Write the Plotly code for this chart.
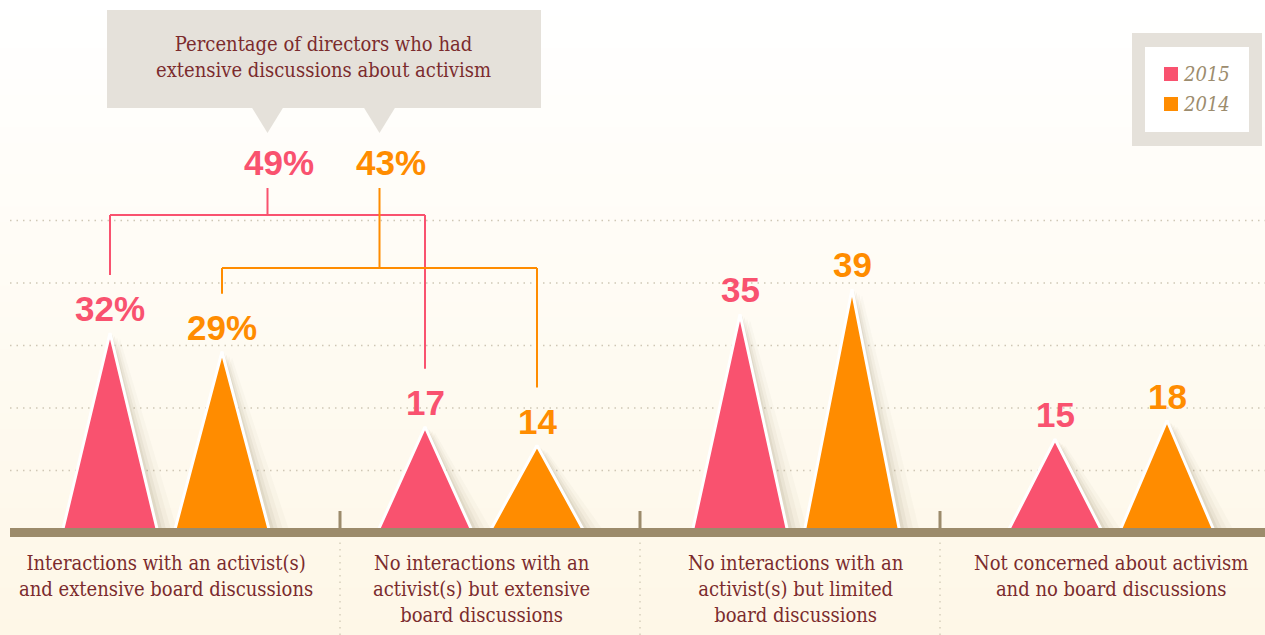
import plotly.graph_objects as go

# ---------------- data ----------------
categories = [
    "Interactions with an activist(s)<br>and extensive board discussions",
    "No interactions with an<br>activist(s) but extensive<br>board discussions",
    "No interactions with an<br>activist(s) but limited<br>board discussions",
    "Not concerned about activism<br>and no board discussions",
]
series_names = ["2015", "2014"]
values_2015 = [32, 17, 35, 15]
values_2014 = [29, 14, 39, 18]
labels_2015 = ["32%", "17", "35", "15"]
labels_2014 = ["29%", "14", "39", "18"]
extensive_totals = [49, 43]          # 2015, 2014
extensive_labels = ["49%", "43%"]
grid_values = [10, 20, 30, 40, 50]
callout_text = "Percentage of directors who had<br>extensive discussions about activism"

# ---------------- style ----------------
W, H = 1265, 635
PINK = "#F9526F"
ORANGE = "#FF8C00"
BROWN = "#9C8B6B"
MAROON = "#7B2B2D"
BOXGRAY = "#E5E1DA"
SERIF = "DejaVu Serif Condensed, Liberation Serif, serif"
SANS = "Liberation Sans, Arial, sans-serif"
colors = [PINK, ORANGE]

# axis geometry (pixel <-> data)
X0_PX, X_STEP = 166.0, 315.0      # pixel of category 0, pixels per category
Y0_PX, Y_STEP = 533.0, 6.25       # pixel of value 0, pixels per unit
OFFSET = 56 / X_STEP              # series offset from category centre
HALF = 48 / X_STEP                # triangle half width

def xd(p):  # pixel -> x data
    return (p - X0_PX) / X_STEP

def yd(p):  # pixel -> y data
    return (Y0_PX - p) / Y_STEP

def xp(p):  # pixel -> paper x
    return p / W

def yp(p):  # pixel -> paper y
    return 1 - p / H

fig = go.Figure()
shapes = []
annotations = []

# background gradient (white top -> cream bottom)
n_bands = 40
top = (255, 255, 255)
bot = (254, 247, 231)
for k in range(n_bands):
    t = k / (n_bands - 1)
    c = tuple(int(round(top[j] + (bot[j] - top[j]) * t)) for j in range(3))
    shapes.append(dict(type="rect", xref="paper", yref="paper",
                       x0=0, x1=1, y0=1 - (k + 1) / n_bands - 0.002, y1=1 - k / n_bands,
                       fillcolor="rgb(%d,%d,%d)" % c, line_width=0, layer="below"))

# gridlines
for g in grid_values:
    shapes.append(dict(type="line", xref="paper", yref="y", x0=xp(10), x1=1, y0=g, y1=g,
                       line=dict(color="#CFC7B5", width=1.5, dash="1.5px,5px"), layer="below"))

# triangles with shadows
series_vals = [values_2015, values_2014]
series_labels = [labels_2015, labels_2014]
for s, (vals, labs) in enumerate(zip(series_vals, series_labels)):
    off = -OFFSET if s == 0 else OFFSET
    for i, v in enumerate(vals):
        cx = i + off
        # soft shadow layers (offset to the right)
        for sh, alpha in [(20, 0.03), (14, 0.045), (9, 0.06), (5, 0.08)]:
            dx = sh / X_STEP
            fig.add_trace(go.Scatter(
                x=[cx - HALF + dx * 0.3, cx + dx * 0.5, cx + HALF + dx, cx - HALF + dx * 0.3],
                y=[0, v - sh * 0.3 / Y_STEP, 0, 0],
                mode="lines", fill="toself", fillcolor="rgba(110,90,50,%.3f)" % alpha,
                line=dict(width=0), hoverinfo="skip", showlegend=False))
        fig.add_trace(go.Scatter(
            x=[cx - HALF, cx, cx + HALF, cx - HALF], y=[0, v, 0, 0],
            mode="lines", fill="toself", fillcolor=colors[s],
            line=dict(color="white", width=3), name=series_names[s],
            hoverinfo="skip", showlegend=False))
        annotations.append(dict(x=cx, y=v, xref="x", yref="y", text=labs[i],
                                showarrow=False, yanchor="bottom", yshift=3,
                                font=dict(family=SANS, size=35, color=colors[s], weight="bold")))

# baseline bar
shapes.append(dict(type="rect", xref="paper", yref="y", x0=xp(10), x1=1,
                   y0=yd(537), y1=yd(528), fillcolor=BROWN, line_width=0, layer="above"))
# section dividers
for dpx in [340, 640, 940]:
    shapes.append(dict(type="line", xref="paper", yref="y", x0=xp(dpx), x1=xp(dpx),
                       y0=yd(528), y1=yd(511), line=dict(color=BROWN, width=3), layer="above"))
    shapes.append(dict(type="line", xref="paper", yref="paper", x0=xp(dpx), x1=xp(dpx),
                       y0=0, y1=yp(540), line=dict(color="#D8CFBC", width=1.5, dash="1.5px,5px"),
                       layer="above"))

# category labels
for i, cat in enumerate(categories):
    annotations.append(dict(x=i, y=yd(549), xref="x", yref="y", text=cat, showarrow=False,
                            xanchor="center", yanchor="top", align="center",
                            font=dict(family=SERIF, size=20, color=MAROON)))

# brackets linking the first two categories to the "extensive discussions" totals
bracket_levels = [yd(215), yd(268)]
stub_top = yd(188)
label_gap = 58 / Y_STEP
for s, vals in enumerate(series_vals):
    off = -OFFSET if s == 0 else OFFSET
    xa, xb = 0 + off, 1 + off
    lvl = bracket_levels[s]
    xm = (xa + xb) / 2
    line = dict(color=colors[s], width=2)
    shapes.append(dict(type="line", xref="x", yref="y", x0=xa, x1=xb, y0=lvl, y1=lvl, line=line, layer="above"))
    shapes.append(dict(type="line", xref="x", yref="y", x0=xa, x1=xa, y0=lvl, y1=vals[0] + label_gap, line=line, layer="above"))
    shapes.append(dict(type="line", xref="x", yref="y", x0=xb, x1=xb, y0=lvl, y1=vals[1] + label_gap, line=line, layer="above"))
    shapes.append(dict(type="line", xref="x", yref="y", x0=xm, x1=xm, y0=lvl, y1=stub_top, line=line, layer="above"))
    annotations.append(dict(x=xm, y=yd(162), xref="x", yref="y", text=extensive_labels[s],
                            showarrow=False, xshift=11, xanchor="center", yanchor="middle",
                            font=dict(family=SANS, size=35, color=colors[s], weight="bold")))
    # callout pointer
    px_m = X0_PX + xm * X_STEP
    shapes.append(dict(type="path", xref="paper", yref="paper",
                       path="M %f %f L %f %f L %f %f Z" % (xp(px_m - 16), yp(107), xp(px_m + 16), yp(107), xp(px_m), yp(133)),
                       fillcolor=BOXGRAY, line_width=0, layer="below"))

# callout box
shapes.append(dict(type="rect", xref="paper", yref="paper", x0=xp(107), x1=xp(541),
                   y0=yp(108), y1=yp(10), fillcolor=BOXGRAY, line_width=0, layer="below"))
annotations.append(dict(x=xp(323), y=yp(57), xref="paper", yref="paper", text=callout_text,
                        showarrow=False, xanchor="center", yanchor="middle",
                        font=dict(family=SERIF, size=20, color=MAROON)))

# legend box
shapes.append(dict(type="rect", xref="paper", yref="paper", x0=xp(1132), x1=xp(1262),
                   y0=yp(146), y1=yp(33), fillcolor=BOXGRAY, line_width=0, layer="below"))
shapes.append(dict(type="rect", xref="paper", yref="paper", x0=xp(1145), x1=xp(1249),
                   y0=yp(132), y1=yp(47), fillcolor="#FFFFFF", line_width=0, layer="below"))
for s, name in enumerate(series_names):
    cy = 74 + 30 * s
    shapes.append(dict(type="rect", xref="paper", yref="paper", x0=xp(1164), x1=xp(1178),
                       y0=yp(cy + 7), y1=yp(cy - 7), fillcolor=colors[s], line_width=0, layer="above"))
    annotations.append(dict(x=xp(1181), y=yp(cy), xref="paper", yref="paper", text="<i>%s</i>" % name,
                            showarrow=False, xanchor="left", yanchor="middle",
                            font=dict(family=SERIF, size=20, color="#9C8C6E")))

fig.update_layout(
    width=W, height=H,
    margin=dict(l=0, r=0, t=0, b=0),
    paper_bgcolor="#FFFFFF", plot_bgcolor="rgba(0,0,0,0)",
    xaxis=dict(range=[xd(0), xd(W)], visible=False, fixedrange=True),
    yaxis=dict(range=[yd(H), yd(0)], visible=False, fixedrange=True),
    shapes=shapes, annotations=annotations, showlegend=False,
)

fig.write_html("out.html", config={"displayModeBar": False},
               post_script="document.body.style.margin='0';")
